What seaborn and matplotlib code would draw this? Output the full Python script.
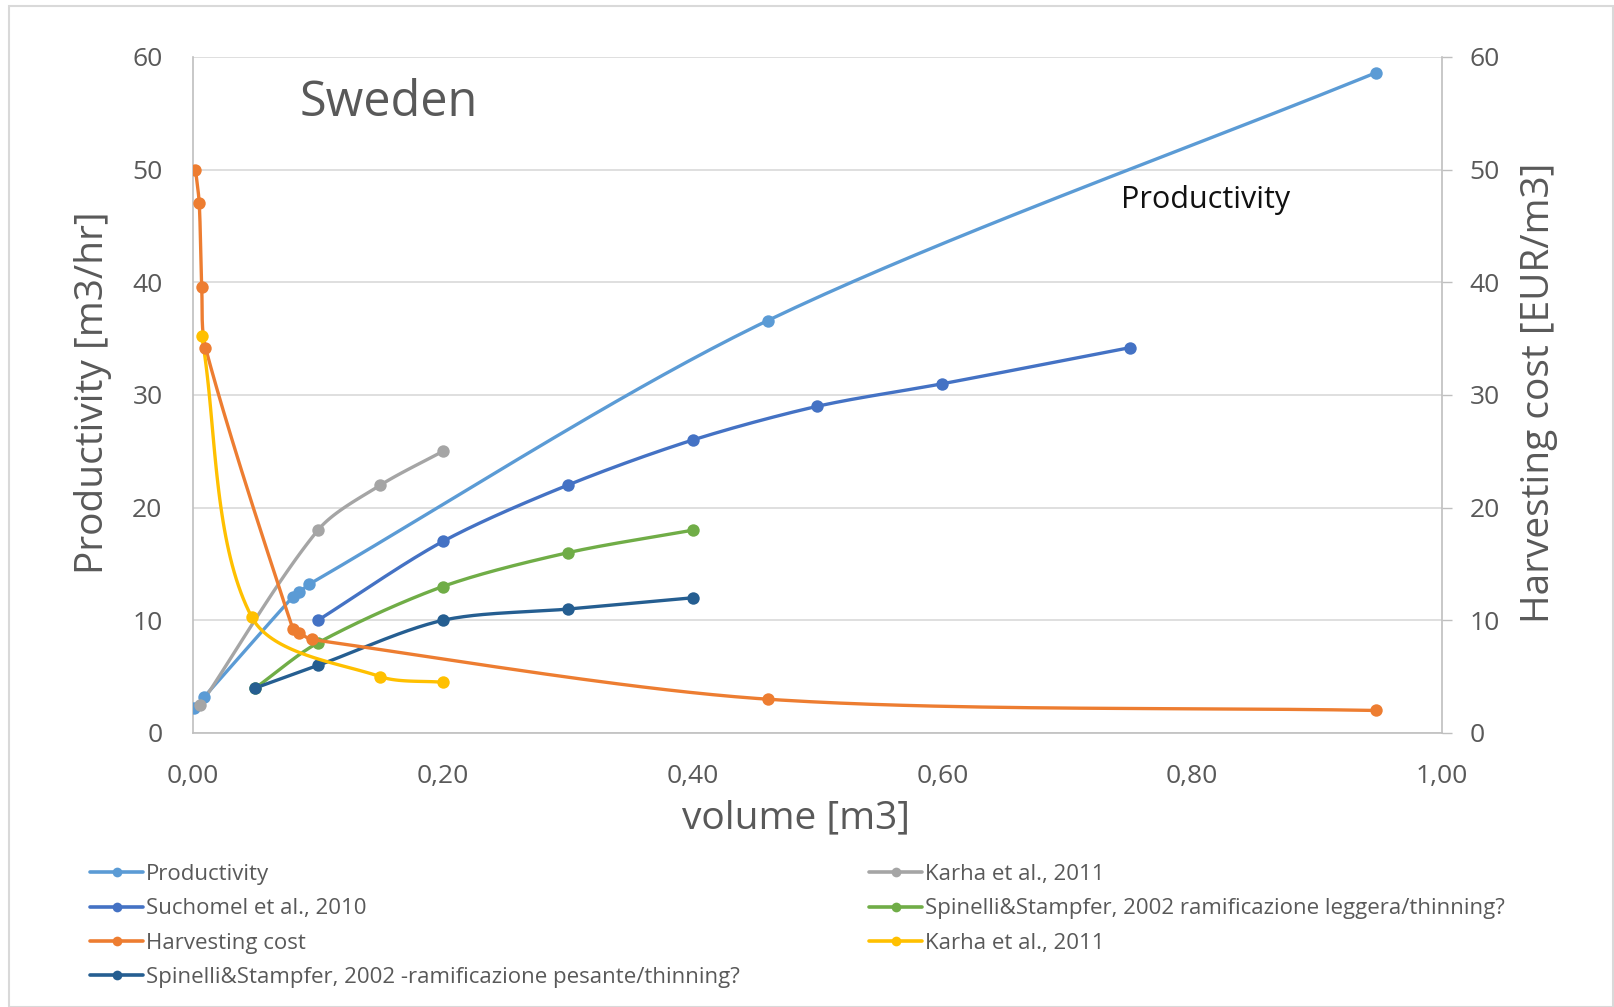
import numpy as np
import pandas as pd
import matplotlib
matplotlib.use("Agg")
import matplotlib.pyplot as plt
from matplotlib.lines import Line2D
from matplotlib.patches import Rectangle
import seaborn as sns

# ---- data (volume [m3] vs value) ----
prod_x = [0.001, 0.009, 0.080, 0.085, 0.093, 0.46, 0.947]
prod_y = [2.2, 3.2, 12.1, 12.5, 13.2, 36.6, 58.6]

such_x = [0.10, 0.20, 0.30, 0.40, 0.50, 0.60, 0.75]
such_y = [10.0, 17.0, 22.0, 26.0, 29.0, 31.0, 34.2]

karha_p_x = [0.006, 0.10, 0.15, 0.20]
karha_p_y = [2.5, 18.0, 22.0, 25.0]

spin_light_x = [0.05, 0.10, 0.20, 0.30, 0.40]
spin_light_y = [4.0, 8.0, 13.0, 16.0, 18.0]

spin_heavy_x = [0.05, 0.10, 0.20, 0.30, 0.40]
spin_heavy_y = [4.0, 6.0, 10.0, 11.0, 12.0]

cost_x = [0.002, 0.005, 0.007, 0.010, 0.080, 0.085, 0.095, 0.46, 0.947]
cost_y = [50.0, 47.0, 39.6, 34.2, 9.2, 8.9, 8.3, 3.0, 2.0]

karha_c_x = [0.007, 0.047, 0.15, 0.20]
karha_c_y = [35.2, 10.3, 5.0, 4.5]

x_ticks = [0.0, 0.2, 0.4, 0.6, 0.8, 1.0]
y_ticks = [0, 10, 20, 30, 40, 50, 60]

COLORS = {
    "Productivity": "#5B9BD5",
    "Suchomel et al., 2010": "#4472C4",
    "Harvesting cost": "#ED7D31",
    "Spinelli&Stampfer, 2002 -ramificazione pesante/thinning?": "#255E91",
    "Karha gray": "#A5A5A5",
    "Spinelli&Stampfer, 2002 ramificazione leggera/thinning?": "#70AD47",
    "Karha yellow": "#FFC000",
}

W, H = 1614, 1007
AX_L, AX_R, AX_T, AX_B = 193, 1442, 57, 733
SX = (AX_R - AX_L) / 1.0   # px per x unit
SY = (AX_B - AX_T) / 60.0  # px per y unit


def smooth(xs, ys, n=40):
    # excel-like smoothed line: bezier segments, tangents taken in screen space
    # and scaled to each segment's own length so close points do not loop
    p = np.column_stack([np.asarray(xs) * SX, np.asarray(ys) * SY]).astype(float)
    m = len(p)
    tang = np.zeros_like(p)
    for i in range(m):
        d = p[min(i + 1, m - 1)] - p[max(i - 1, 0)]
        tang[i] = d / (np.linalg.norm(d) + 1e-9)
    t = np.linspace(0, 1, n)[:, None]
    out = []
    for i in range(m - 1):
        p1, p2 = p[i], p[i + 1]
        L = np.linalg.norm(p2 - p1)
        c1 = p1 + tang[i] * L * 0.3
        c2 = p2 - tang[i + 1] * L * 0.3
        seg = ((1 - t) ** 3) * p1 + 3 * ((1 - t) ** 2) * t * c1 + 3 * (1 - t) * t ** 2 * c2 + t ** 3 * p2
        out.append(seg if i == 0 else seg[1:])
    out = np.vstack(out)
    return out[:, 0] / SX, out[:, 1] / SY


sns.set_theme(style="white")
plt.rcParams["font.family"] = ["Open Sans", "DejaVu Sans"]
grey_txt = "#595959"

fig = plt.figure(figsize=(W / 100, H / 100), dpi=100)
fig.patches.append(Rectangle((9 / W, 0), (W - 10) / W, 1 - 6 / H, transform=fig.transFigure,
                             fill=False, edgecolor="#D9D9D9", linewidth=1.5))

ax = fig.add_axes([AX_L / W, 1 - AX_B / H, (AX_R - AX_L) / W, (AX_B - AX_T) / H])
ax2 = ax.twinx()


def draw(axis, xs, ys, color):
    sx, sy = smooth(xs, ys)
    line_df = pd.DataFrame({"x": sx, "y": sy})
    sns.lineplot(data=line_df, x="x", y="y", ax=axis, color=color, linewidth=2.4,
                 sort=False, estimator=None, legend=False)
    pts = pd.DataFrame({"x": xs, "y": ys})
    sns.scatterplot(data=pts, x="x", y="y", ax=axis, color=color, s=80,
                    edgecolor=color, linewidth=0, legend=False, zorder=3)


# left axis: productivity series
draw(ax, prod_x, prod_y, COLORS["Productivity"])
draw(ax, karha_p_x, karha_p_y, COLORS["Karha gray"])
draw(ax, such_x, such_y, COLORS["Suchomel et al., 2010"])
draw(ax, spin_light_x, spin_light_y, COLORS["Spinelli&Stampfer, 2002 ramificazione leggera/thinning?"])
draw(ax, spin_heavy_x, spin_heavy_y, COLORS["Spinelli&Stampfer, 2002 -ramificazione pesante/thinning?"])
# right axis: cost series
draw(ax2, cost_x, cost_y, COLORS["Harvesting cost"])
draw(ax2, karha_c_x, karha_c_y, COLORS["Karha yellow"])

for a in (ax, ax2):
    a.set_xlim(0, 1.0)
    a.set_ylim(0, 60)
    a.set_yticks(y_ticks)
    a.set_xlabel("")
    a.set_ylabel("")

ax.set_xticks(x_ticks)
ax.set_xticklabels([f"{v:.2f}".replace(".", ",") for v in x_ticks])
ax.yaxis.grid(True, color="#D9D9D9", linewidth=1.2)
ax.xaxis.grid(False)
ax.set_axisbelow(True)

ax.tick_params(axis="y", length=0, pad=22, labelsize=19, labelcolor=grey_txt)
ax.tick_params(axis="x", length=0, pad=22, labelsize=19, labelcolor=grey_txt)
ax2.tick_params(axis="y", right=True, length=7, width=1, color="#BFBFBF", pad=13,
                labelsize=19, labelcolor=grey_txt)

for s in ("top", "right"):
    ax.spines[s].set_visible(False)
for s in ("top", "left", "bottom"):
    ax2.spines[s].set_visible(False)
for sp in (ax.spines["left"], ax.spines["bottom"], ax2.spines["right"]):
    sp.set_color("#BFBFBF")
    sp.set_linewidth(1.2)

fig.text(93 / W, 1 - 393 / H, "Productivity [m3/hr]", rotation=90, ha="center", va="center",
         fontsize=28, color=grey_txt)
fig.text(1539 / W, 1 - 393 / H, "Harvesting cost [EUR/m3]", rotation=90, ha="center", va="center",
         fontsize=28, color=grey_txt)
fig.text(796 / W, 1 - 818 / H, "volume [m3]", ha="center", va="center", fontsize=28, color=grey_txt)
fig.text(389 / W, 1 - 103 / H, "Sweden", ha="center", va="center", fontsize=35, color=grey_txt)
fig.text(1206 / W, 1 - 200 / H, "Productivity", ha="center", va="center", fontsize=22,
         color="#111111", fontweight="medium")


def handle(label):
    c = COLORS[label]
    return Line2D([0], [0], color=c, linewidth=2.6, marker="o", markersize=7, markeredgewidth=0)


col1 = ["Productivity", "Suchomel et al., 2010", "Harvesting cost",
        "Spinelli&Stampfer, 2002 -ramificazione pesante/thinning?"]
col2 = [("Karha gray", "Karha et al., 2011"),
        ("Spinelli&Stampfer, 2002 ramificazione leggera/thinning?",
         "Spinelli&Stampfer, 2002 ramificazione leggera/thinning?"),
        ("Karha yellow", "Karha et al., 2011")]

leg_kw = dict(frameon=False, handlelength=2.4, handletextpad=0.1,
              labelspacing=0.6, borderaxespad=0, borderpad=0,
              prop={"family": ["Open Sans", "DejaVu Sans"], "size": 16})
l1 = fig.legend([handle(k) for k in col1], col1, loc="upper left",
                bbox_to_anchor=(90 / W, 1 - 864 / H), **leg_kw)
for t in l1.get_texts():
    t.set_color(grey_txt)
l2 = fig.legend([handle(k) for k, _ in col2], [v for _, v in col2], loc="upper left",
                bbox_to_anchor=(869 / W, 1 - 864 / H), **leg_kw)
for t in l2.get_texts():
    t.set_color(grey_txt)

fig.savefig("out.png", dpi=100)
